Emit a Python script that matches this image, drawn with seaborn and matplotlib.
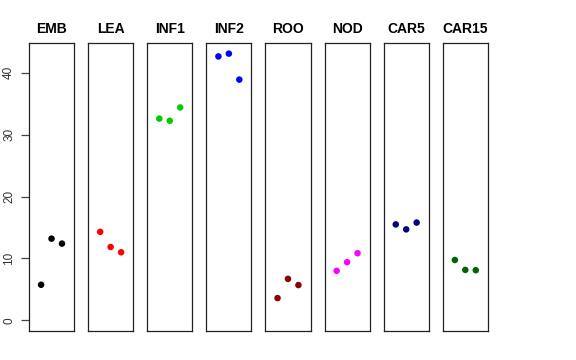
import numpy as np
import pandas as pd
import matplotlib
matplotlib.use('Agg')
import matplotlib.pyplot as plt
import seaborn as sns

sns.set_style('white')
plt.rcParams['font.family'] = ['Liberation Sans', 'DejaVu Sans']

# ------------- data -------------
tissues = ['EMB', 'LEA', 'INF1', 'INF2', 'ROO', 'NOD', 'CAR5', 'CAR15']
colors = ['#000000', '#FF0000', '#00CD00', '#0000FF',
          '#8B0000', '#FF00FF', '#000080', '#006400']
reps = [1, 2, 3]
emb = [5.75, 13.2, 12.4]
lea = [14.3, 11.85, 11.0]
inf1 = [32.6, 32.25, 34.4]
inf2 = [42.65, 43.1, 38.9]
roo = [3.6, 6.7, 5.7]
nod = [8.0, 9.4, 10.85]
car5 = [15.5, 14.7, 15.8]
car15 = [9.75, 8.15, 8.1]
values = [emb, lea, inf1, inf2, roo, nod, car5, car15]
yticks = [0, 10, 20, 30, 40]

rows = []
for t, vals in zip(tissues, values):
    for r, v in zip(reps, vals):
        rows.append({'tissue': t, 'rep': r, 'value': v})
df = pd.DataFrame(rows)

# ------------- figure -------------
fig, axes = plt.subplots(1, len(tissues), figsize=(5.76, 3.6), dpi=100, sharey=True)
fig.subplots_adjust(left=0.0503, right=0.847, top=0.8806, bottom=0.0806, wspace=0.31)

for i, (ax, t, c) in enumerate(zip(axes, tissues, colors)):
    sub = df[df['tissue'] == t]
    sns.scatterplot(data=sub, x='rep', y='value', color=c, s=22,
                    edgecolor='none', ax=ax, legend=False)
    ax.set_xlim(-0.16, 4.16)
    ax.set_ylim(-1.72, 44.82)
    ax.set_xticks([])
    ax.set_xlabel('')
    ax.set_ylabel('')
    ax.set_title(t, fontsize=10, fontweight='bold', color='black', pad=7)
    for sp in ax.spines.values():
        sp.set_visible(True)
        sp.set_color('#222222')
        sp.set_linewidth(0.9)
    if i == 0:
        ax.set_yticks(yticks)
        ax.tick_params(axis='y', left=True, length=6, width=0.9, color='#444444',
                       labelsize=8.5, labelcolor='#333333', pad=4)
        for lab in ax.get_yticklabels():
            lab.set_rotation(90)
            lab.set_va('center')
    else:
        ax.tick_params(axis='y', left=False, labelleft=False)

fig.savefig('out.png', dpi=100)
